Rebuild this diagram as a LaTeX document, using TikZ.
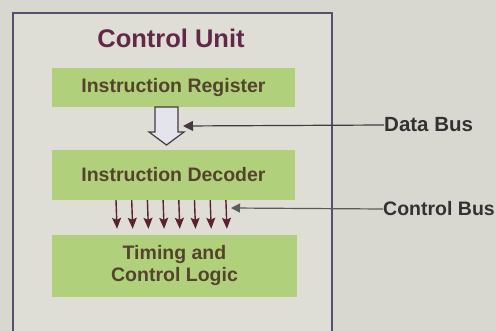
\documentclass[tikz,border=0pt]{standalone}
\usepackage{fontspec}
\setmainfont{Liberation Sans}
\usetikzlibrary{arrows.meta}
\definecolor{bg}{RGB}{216,216,208}
\definecolor{inner}{RGB}{222,222,214}
\definecolor{boxgreen}{RGB}{176,208,124}
\definecolor{boxtext}{RGB}{84,68,44}
\definecolor{titlecol}{RGB}{98,40,72}
\definecolor{framecol}{RGB}{84,80,110}
\definecolor{buscol}{RGB}{70,58,66}
\definecolor{ctlcol}{RGB}{92,32,48}
\definecolor{labcol}{RGB}{50,50,50}
\definecolor{hollow}{RGB}{228,228,236}
\tikzset{
  greenbox/.style={fill=boxgreen, draw=none, inner sep=0pt, text=boxtext,
    font=\bfseries\fontsize{19.5}{22}\selectfont, align=center},
  frameline/.style={draw=framecol, line width=1.4pt},
  busline/.style={draw=buscol, line width=1.2pt},
  ctlarrow/.style={draw=ctlcol, fill=ctlcol, line width=1.4pt, -{Stealth[length=11pt,width=9pt,inset=2pt]}},
  buslabel/.style={text=labcol, font=\bfseries\fontsize{20.5}{23}\selectfont, anchor=west, inner sep=0pt}
}
\begin{document}
\begin{tikzpicture}[x=1pt,y=-1pt]
\useasboundingbox (0,0) rectangle (496,331);
\fill[bg] (0,0) rectangle (496,331);
\fill[inner] (13,13) rectangle (332,345);
\draw[frameline] (13,13) rectangle (332,345);
\node[text=titlecol, font=\bfseries\fontsize{25.5}{28}\selectfont] (title) at (171,38) {Control Unit};
\node[greenbox, minimum width=243pt, minimum height=39pt] (ir) at (173.5,87.5) {Instruction Register};
\node[greenbox, minimum width=243pt, minimum height=50pt] (id) at (173.5,175) {Instruction Decoder};
\node[greenbox, minimum width=245pt, minimum height=62pt] (tcl) at (174.5,266) {Timing and\\Control Logic};
% hollow arrow between register and decoder
\draw[draw=buscol, fill=hollow, line width=1.2pt]
  (155,107) -- (155,132) -- (149,132) -- (166.5,145) -- (184,132) -- (178,132) -- (178,107) -- cycle;
% data bus
\coordinate (db) at (183,126);
\node[buslabel] (dbl) at (384,125) {Data Bus};
\draw[busline, -{Triangle[length=10pt,width=10pt]}] (dbl.west) -- (db);
% control lines
\foreach \dx in {-57.5,-41.8,-26.1,-10.4,5.3,21.0,36.7,52.4}{
  \draw[ctlarrow] ([xshift=\dx pt]id.south) -- ([xshift=\dx pt, yshift=6pt]tcl.north);
}
% control bus
\coordinate (cb) at (231,208);
\node[buslabel, font=\bfseries\fontsize{19.5}{22}\selectfont] (cbl) at (383,209) {Control Bus};
\draw[busline, draw=labcol!80, -{Triangle[length=9pt,width=9pt]}] (cbl.west) -- (cb);
\end{tikzpicture}
\end{document}
